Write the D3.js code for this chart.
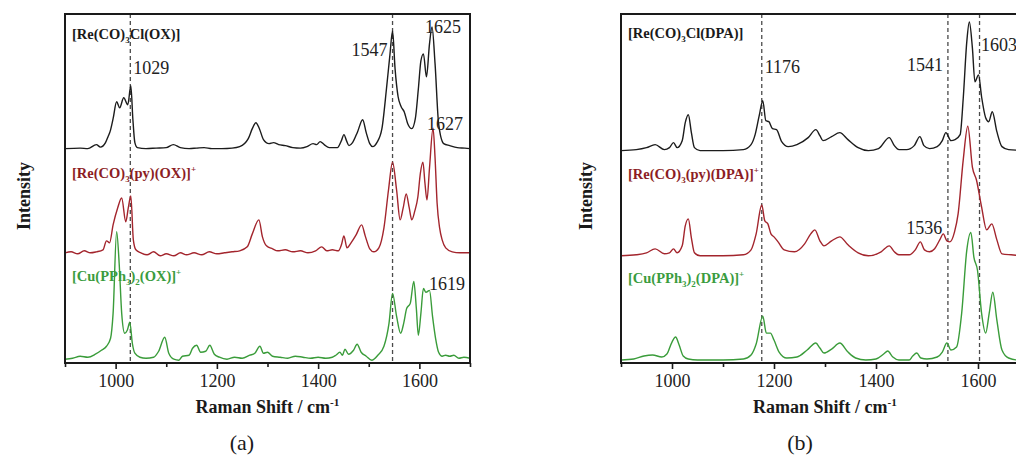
<!DOCTYPE html>
<html>
<head>
<meta charset="utf-8">
<script src="https://cdn.jsdelivr.net/npm/d3@7"></script>
<style>
  html, body { margin: 0; padding: 0; background: #fff; }
  svg { display: block; font-family: "Liberation Serif", "Times New Roman", serif; }
</style>
</head>
<body>
<svg id="chart" width="1016" height="460"></svg>
<script>
// ---- Raman spectra: [wavenumber (cm-1), relative intensity] ----
const wavenumberDomain = [900, 1700];
const majorTicks = [1000, 1200, 1400, 1600];
const minorTicks = [900, 1100, 1300, 1500, 1700];
const intensityDomain = [0, 3.5];

// (a) OX complexes
const oxReCl = [
  [900,0],[930,0.005],[945,0.0],[962,0.04],[970,0.015],[980,0.06],[985,0.12],[989,0.17],[995,0.3],[1002,0.47],[1008,0.41],
  [1016,0.51],[1024,0.44],[1030,0.63],[1034,0.3],[1038,0.06],[1043,0.01],[1060,0.0],[1080,0.005],[1100,0.01],[1114,0.04],
  [1128,0.01],[1145,0.0],[1160,0.005],[1175,0.01],[1190,0.0],[1210,0.0],[1230,0.005],[1245,0.02],[1262,0.1],[1270,0.2],
  [1277,0.26],[1284,0.2],[1292,0.09],[1303,0.05],[1312,0.06],[1322,0.04],[1335,0.03],[1350,0.01],[1365,0.005],[1378,0.02],
  [1390,0.05],[1397,0.04],[1404,0.07],[1412,0.04],[1422,0.01],[1438,0.01],[1446,0.08],[1451,0.14],[1456,0.08],[1461,0.03],
  [1468,0.06],[1478,0.17],[1488,0.29],[1495,0.16],[1502,0.05],[1508,0.02],[1516,0.06],[1526,0.2],[1535,0.6],[1542,0.95],
  [1547,1.18],[1552,0.8],[1558,0.52],[1564,0.42],[1570,0.37],[1577,0.25],[1585,0.2],[1592,0.3],[1598,0.6],[1603,0.88],
  [1608,0.95],[1614,0.72],[1620,1.05],[1625,1.22],[1631,0.85],[1638,0.25],[1648,0.05],[1660,0.03],[1675,0.01],[1690,0.005],[1700,0]
];
const oxRePy = [
  [900,0],[912,0.01],[925,-0.01],[938,0.02],[950,0.0],[962,0.01],[975,0.03],[982,0.12],[988,0.1],[995,0.28],[1004,0.45],
  [1012,0.55],[1020,0.31],[1025,0.45],[1030,0.57],[1035,0.13],[1040,0.03],[1050,0.0],[1062,-0.02],[1075,0.01],[1088,-0.03],
  [1100,-0.01],[1115,-0.03],[1128,0.0],[1140,-0.02],[1155,0.0],[1170,-0.02],[1185,0.01],[1200,-0.01],[1215,0.0],[1230,0.01],
  [1245,0.02],[1260,0.06],[1270,0.19],[1283,0.33],[1290,0.16],[1298,0.07],[1310,0.04],[1320,0.02],[1335,0.03],[1350,0.01],
  [1365,0.02],[1380,0.0],[1395,0.02],[1407,0.06],[1417,0.02],[1428,0.03],[1440,0.02],[1446,0.08],[1451,0.17],[1457,0.05],
  [1465,0.1],[1475,0.18],[1486,0.28],[1493,0.17],[1502,0.04],[1510,0.01],[1520,0.05],[1530,0.25],[1539,0.63],[1547,0.91],
  [1555,0.63],[1562,0.33],[1568,0.45],[1574,0.59],[1580,0.45],[1585,0.33],[1591,0.42],[1597,0.56],[1602,0.8],[1607,0.91],
  [1611,0.7],[1615,0.53],[1620,0.85],[1627,1.25],[1631,0.95],[1635,0.5],[1640,0.25],[1645,0.13],[1652,0.05],[1665,0.01],
  [1680,0.0],[1700,0]
];
const oxCu = [
  [900,-0.01],[915,0.0],[930,0.02],[945,0.01],[960,0.04],[972,0.08],[982,0.12],[990,0.2],[995,0.45],[1002,1.27],[1007,0.95],
  [1012,0.45],[1018,0.25],[1023,0.28],[1028,0.36],[1033,0.15],[1038,0.05],[1048,0.01],[1060,0.0],[1075,0.01],[1085,0.07],
  [1097,0.21],[1105,0.05],[1115,-0.01],[1125,-0.02],[1132,0.02],[1145,0.03],[1152,0.1],[1160,0.13],[1168,0.06],[1178,0.07],
  [1186,0.13],[1195,0.04],[1205,0.01],[1220,-0.01],[1235,0.01],[1250,0.0],[1265,0.03],[1275,0.05],[1285,0.12],[1292,0.05],
  [1300,0.06],[1310,0.02],[1325,0.01],[1340,0.0],[1355,0.02],[1370,0.01],[1385,0.0],[1400,0.01],[1415,0.0],[1428,0.01],
  [1435,0.03],[1443,0.06],[1448,0.03],[1453,0.09],[1460,0.04],[1470,0.08],[1477,0.14],[1485,0.06],[1495,0.02],[1506,-0.02],
  [1518,0.03],[1530,0.12],[1540,0.35],[1547,0.65],[1555,0.42],[1563,0.25],[1569,0.35],[1575,0.5],[1582,0.55],[1589,0.77],
  [1594,0.5],[1598,0.23],[1603,0.45],[1608,0.7],[1613,0.66],[1620,0.68],[1626,0.42],[1632,0.2],[1638,0.06],[1645,0.02],
  [1652,0.03],[1660,0.02],[1668,0.03],[1678,0.0],[1688,0.01],[1700,0.0]
];

// (b) DPA complexes
const dpaReCl = [
  [900,0],[930,0.01],[950,0.03],[967,0.06],[985,0.01],[995,0.03],[1003,0.08],[1010,0.03],[1020,0.1],[1026,0.28],[1032,0.36],
  [1038,0.18],[1044,0.03],[1055,0.0],[1100,0.0],[1140,0.01],[1155,0.06],[1163,0.16],[1171,0.35],[1178,0.5],[1184,0.3],
  [1190,0.29],[1197,0.22],[1205,0.21],[1215,0.09],[1228,0.04],[1245,0.06],[1267,0.13],[1282,0.21],[1290,0.15],[1296,0.1],
  [1313,0.14],[1329,0.18],[1345,0.11],[1365,0.03],[1385,0.0],[1405,0.02],[1426,0.13],[1436,0.05],[1445,0.01],[1460,0.01],
  [1475,0.05],[1486,0.14],[1494,0.05],[1505,0.02],[1520,0.04],[1530,0.1],[1537,0.18],[1547,0.1],[1555,0.11],[1565,0.16],
  [1571,0.52],[1578,1.09],[1583,1.29],[1589,1.03],[1594,0.69],[1601,0.76],[1607,0.54],[1615,0.33],[1621,0.29],[1628,0.39],
  [1637,0.19],[1647,0.04],[1660,0.01],[1700,0]
];
const dpaRePy = [
  [900,0],[930,0.01],[950,0.03],[967,0.07],[985,0.02],[995,0.03],[1003,0.07],[1010,0.03],[1020,0.1],[1026,0.3],[1032,0.37],
  [1038,0.18],[1044,0.03],[1055,0.0],[1100,0.0],[1140,0.01],[1155,0.06],[1165,0.22],[1176,0.51],[1182,0.35],[1188,0.32],
  [1194,0.22],[1200,0.19],[1208,0.14],[1220,0.06],[1240,0.04],[1260,0.12],[1272,0.22],[1280,0.26],[1290,0.15],[1298,0.1],
  [1313,0.15],[1329,0.19],[1345,0.11],[1365,0.03],[1385,0.0],[1410,0.04],[1426,0.1],[1436,0.04],[1445,0.01],[1465,0.01],
  [1477,0.06],[1487,0.14],[1495,0.06],[1505,0.04],[1515,0.07],[1525,0.16],[1532,0.22],[1539,0.15],[1545,0.14],[1554,0.24],
  [1561,0.42],[1571,0.96],[1580,1.3],[1589,0.89],[1597,0.76],[1607,0.49],[1617,0.26],[1627,0.32],[1637,0.16],[1647,0.02],
  [1665,0.01],[1700,0]
];
const dpaCu = [
  [900,0],[925,0.01],[945,0.04],[962,0.05],[980,0.03],[990,0.06],[1000,0.18],[1007,0.23],[1014,0.15],[1022,0.04],[1032,0.01],
  [1050,0.0],[1100,0.0],[1140,0.01],[1155,0.05],[1165,0.16],[1178,0.44],[1185,0.27],[1193,0.27],[1200,0.2],[1210,0.08],
  [1225,0.02],[1245,0.03],[1265,0.1],[1282,0.17],[1290,0.12],[1298,0.07],[1313,0.11],[1329,0.17],[1345,0.08],[1360,0.02],
  [1380,0.0],[1400,0.01],[1415,0.06],[1423,0.09],[1433,0.03],[1445,0.0],[1465,0.0],[1472,0.04],[1480,0.07],[1488,0.02],
  [1500,0.01],[1520,0.03],[1530,0.08],[1539,0.17],[1547,0.1],[1558,0.13],[1568,0.47],[1578,1.1],[1586,1.28],[1592,1.03],
  [1599,0.9],[1607,0.47],[1615,0.27],[1622,0.47],[1629,0.68],[1637,0.4],[1647,0.1],[1660,0.02],[1680,0.0],[1700,0]
];

// vertical stacking offsets (top, middle, bottom trace)
const offsetsA = [2.15, 1.105, 0.048];
const offsetsB = [2.13, 1.075, 0.03];

// compound names, as [text, "sub" | "sup" | ""] runs
const namesA = [
  [["[Re(CO)",""],["3","sub"],["Cl(OX)]",""]],
  [["[Re(CO)",""],["3","sub"],["(py)(OX)]",""],["+","sup"]],
  [["[Cu(PPh",""],["3","sub"],[")",""],["2","sub"],["(OX)]",""],["+","sup"]]
];
const namesB = [
  [["[Re(CO)",""],["3","sub"],["Cl(DPA)]",""]],
  [["[Re(CO)",""],["3","sub"],["(py)(DPA)]",""],["+","sup"]],
  [["[Cu(PPh",""],["3","sub"],[")",""],["2","sub"],["(DPA)]",""],["+","sup"]]
];

// marked bands (dashed guides) and annotated peak positions
const guidesA = [1029, 1547];
const guidesB = [1176, 1541, 1603];
const peaksA = [1029, 1547, 1625, 1627, 1619];
const peaksB = [1176, 1541, 1603, 1536];

// ---- drawing ----
const svg = d3.select("#chart");
const plotTop = 14, plotBottom = 363;
const lineColors = ["#1c1c1c", "#a3252d", "#3a9c3a"];
const nameColors = ["#1a1a1a", "#8c1d24", "#3a9c3e"];

function richText(sel, runs, size) {
  let shift = 0;
  runs.forEach(([t, kind]) => {
    let target = 0, fs = size;
    if (kind === "sub") { target = size * 0.3; fs = size * 0.62; }
    if (kind === "sup") { target = -size * 0.38; fs = size * 0.62; }
    sel.append("tspan").attr("dy", target - shift).attr("font-size", fs).text(t);
    shift = target;
  });
}

function drawPanel(p) {
  const x = d3.scaleLinear().domain(wavenumberDomain).range([p.left, p.right]);
  const y = d3.scaleLinear().domain(intensityDomain).range([plotBottom, plotTop]);
  const g = svg.append("g");

  // dashed guides
  g.selectAll("line.guide").data(p.guides).join("line")
    .attr("class", "guide")
    .attr("x1", d => x(d)).attr("x2", d => x(d))
    .attr("y1", plotTop).attr("y2", plotBottom)
    .attr("stroke", "#4a4a4a").attr("stroke-width", 1.3)
    .attr("stroke-dasharray", "4,3");

  // spectra
  p.series.forEach((data, i) => {
    const line = d3.line()
      .x(d => x(d[0]))
      .y(d => y(d[1] + p.offsets[i]))
      .curve(d3.curveMonotoneX);
    g.append("path").datum(data)
      .attr("d", line)
      .attr("fill", "none")
      .attr("stroke", lineColors[i])
      .attr("stroke-width", 1.4)
      .attr("stroke-linejoin", "round");
  });

  // frame
  g.append("rect")
    .attr("x", p.left).attr("y", plotTop)
    .attr("width", p.right - p.left).attr("height", plotBottom - plotTop)
    .attr("fill", "none").attr("stroke", "#1a1a1a").attr("stroke-width", 2);

  // bottom axis: minor then major ticks
  const minor = d3.axisBottom(x).tickValues(minorTicks).tickSize(4).tickFormat("");
  const major = d3.axisBottom(x).tickValues(majorTicks).tickSize(6).tickPadding(5).tickFormat(d3.format("d"));
  [minor, major].forEach(ax => {
    const a = g.append("g").attr("transform", `translate(0,${plotBottom})`).call(ax);
    a.select(".domain").remove();
    a.selectAll(".tick line").attr("stroke", "#1a1a1a").attr("stroke-width", 1.6);
    a.selectAll(".tick text")
      .attr("font-family", "Liberation Serif, serif")
      .attr("font-size", 18).attr("fill", "#222");
  });

  // axis titles
  const xt = g.append("text")
    .attr("x", (p.left + p.right) / 2).attr("y", 413)
    .attr("text-anchor", "middle").attr("font-weight", "bold")
    .attr("font-size", 18).attr("fill", "#1a1a1a");
  richText(xt, [["Raman Shift / cm",""],["-1","sup"]], 18);

  g.append("text")
    .attr("transform", `translate(${p.yTitleX},196) rotate(-90)`)
    .attr("text-anchor", "middle").attr("font-weight", "bold")
    .attr("font-size", 18).attr("fill", "#1a1a1a")
    .text("Intensity");

  // panel letter
  g.append("text")
    .attr("x", p.letterX).attr("y", 450)
    .attr("text-anchor", "middle").attr("font-size", 22).attr("fill", "#1a1a1a")
    .text(p.letter);

  // compound names
  p.names.forEach((runs, i) => {
    const t = g.append("text")
      .attr("x", p.left + 7).attr("y", p.nameY[i])
      .attr("font-weight", "bold").attr("font-size", 14.5)
      .attr("fill", nameColors[i]);
    richText(t, runs, 14.5);
  });

  // peak annotations
  p.peaks.forEach((w, i) => {
    const [dx, yy, anchor] = p.peakPlace[i];
    g.append("text")
      .attr("x", x(w) + dx).attr("y", yy)
      .attr("text-anchor", anchor)
      .attr("font-size", 18).attr("fill", "#222")
      .text(String(w));
  });
}

drawPanel({
  left: 65, right: 470, series: [oxReCl, oxRePy, oxCu], offsets: offsetsA,
  guides: guidesA, names: namesA, nameY: [39, 178, 281],
  peaks: peaksA,
  peakPlace: [[3, 74, "start"], [-5, 56, "end"], [-7, 33, "start"], [-6, 130, "start"], [0, 290, "start"]],
  yTitleX: 30, letterX: 242, letter: "(a)"
});
drawPanel({
  left: 621, right: 1029, series: [dpaReCl, dpaRePy, dpaCu], offsets: offsetsB,
  guides: guidesB, names: namesB, nameY: [38, 179, 283],
  peaks: peaksB,
  peakPlace: [[3, 73, "start"], [-5, 71, "end"], [1.5, 51, "start"], [-3, 234, "end"]],
  yTitleX: 592, letterX: 800, letter: "(b)"
});
</script>
</body>
</html>
